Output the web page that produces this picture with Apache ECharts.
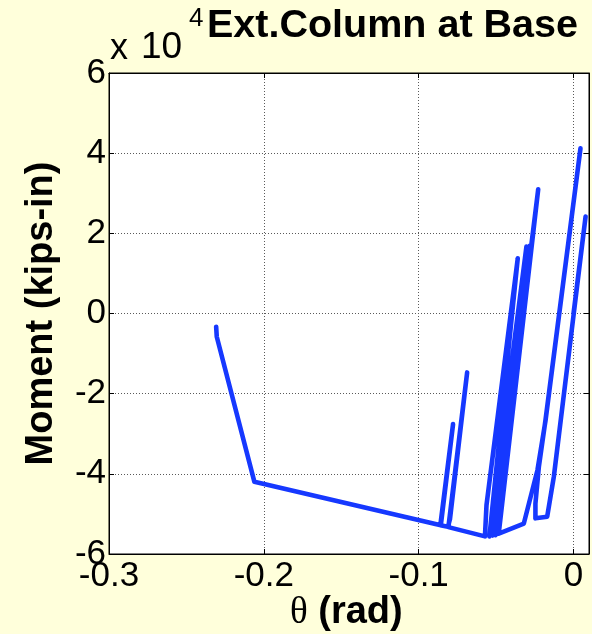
<!DOCTYPE html>
<html>
<head>
<meta charset="utf-8">
<script src="https://cdn.jsdelivr.net/npm/echarts@6/dist/echarts.min.js"></script>
<style>
  html, body { margin: 0; padding: 0; background: #FFFFDB; }
  #chart { width: 592px; height: 634px; }
</style>
</head>
<body>
<div id="chart"></div>
<script>
// Base rotation (rad) and base moment (kips-in) of the exterior column, in path order
const theta = [
  0.0000, 0.0078, -0.0127, -0.0170, -0.0246, -0.0246, -0.0224, -0.0181, 0.0045,
  -0.0181, -0.0233, -0.0321, -0.0483,
  -0.0228, -0.0504, -0.0283, -0.0524, -0.0304, -0.0543, -0.0360, -0.0562, -0.0572,
  -0.0808, -0.0687, -0.0798, -0.0811, -0.0860, -0.0778, -0.0857,
  -0.2061, -0.2304, -0.2308
];
const moment = [
  0, 24200, -40700, -50700, -51100, -47400, -38300, -26600, 41200,
  -26800, -39100, -52400, -54900,
  31000, -55300, 16900, -55400, 16700, -55600, 13800, -47800, -55600,
  -53300, -14700, -51300, -53200, -52800, -27600, -52800,
  -42000, -5800, -3300
];

// Axis ticks
const xTicks = [-0.3, -0.2, -0.1, 0];
const yTicks = [-6, -4, -2, 0, 2, 4, 6];   // ×10^4

const titleText = 'Ext.Column at Base';
const yName = 'Moment (kips-in)';

const points = theta.map((t, i) => [t, moment[i]]);

const chart = echarts.init(document.getElementById('chart'));

const sans = '"Liberation Sans", Arial, sans-serif';
const gridLine = { show: true, lineStyle: { color: '#5a5a5a', type: [1, 2], width: 1 } };
const tickStyle = { show: true, inside: true, length: 5, lineStyle: { color: '#000', width: 1 } };
const boxLine = { show: true, onZero: false, lineStyle: { color: '#000', width: 1 } };
const labelFont = { fontFamily: sans, fontSize: 35, color: '#000' };

chart.setOption({
  animation: false,
  backgroundColor: '#FFFFDB',
  grid: {
    left: 109, right: 3, top: 73, bottom: 80,
    show: true, backgroundColor: '#ffffff', borderColor: '#000', borderWidth: 1
  },
  xAxis: [{
    type: 'value', position: 'bottom',
    min: xTicks[0], max: 0.01, interval: 0.1,
    axisLine: boxLine,
    axisTick: tickStyle,
    splitLine: gridLine,
    axisLabel: Object.assign({
      margin: 5,
      formatter: v => {
        const r = Math.round(v * 10) / 10;
        return xTicks.includes(r) ? (r === 0 ? '0' : r.toFixed(1)) : '';
      }
    }, labelFont)
  }, {
    type: 'value', position: 'top',
    min: xTicks[0], max: 0.01, interval: 0.1,
    axisLine: boxLine,
    axisTick: tickStyle, axisLabel: { show: false }, splitLine: { show: false }
  }],
  yAxis: [{
    type: 'value', position: 'left',
    min: yTicks[0] * 1e4, max: yTicks[yTicks.length - 1] * 1e4, interval: 20000,
    axisLine: boxLine,
    axisTick: tickStyle,
    splitLine: gridLine,
    axisLabel: Object.assign({
      margin: 3,
      formatter: v => String(Math.round(v / 1e4))
    }, labelFont),
    name: yName,
    nameLocation: 'middle',
    nameRotate: 90,
    nameGap: 48,
    nameTextStyle: { fontFamily: sans, fontWeight: 'bold', fontSize: 38, color: '#000' }
  }, {
    type: 'value', position: 'right',
    min: yTicks[0] * 1e4, max: yTicks[yTicks.length - 1] * 1e4, interval: 20000,
    axisLine: boxLine,
    axisTick: tickStyle, axisLabel: { show: false }, splitLine: { show: false }
  }],
  graphic: [{
    type: 'text', x: 207, y: 26.5,
    style: {
      text: titleText,
      font: 'bold 39.5px "Liberation Sans", Arial, sans-serif',
      verticalAlign: 'middle',
      fill: '#000'
    }
  }, {
    // axis multiplier "x 10^4"
    type: 'text', x: 110, y: 49,
    style: {
      text: 'x',
      font: '36px "Liberation Sans", Arial, sans-serif',
      verticalAlign: 'middle',
      fill: '#000'
    }
  }, {
    type: 'text', x: 141, y: 48,
    style: {
      text: '10',
      font: '37px "Liberation Sans", Arial, sans-serif',
      verticalAlign: 'middle',
      fill: '#000'
    }
  }, {
    type: 'text', x: 189, y: 19,
    style: {
      text: '4',
      font: '26px "Liberation Sans", Arial, sans-serif',
      verticalAlign: 'middle',
      fill: '#000'
    }
  }, {
    type: 'text', left: 290, top: 594,
    style: {
      text: '{t|θ}{r| (rad)}',
      rich: {
        t: { fontFamily: '"Liberation Serif", serif', fontSize: 37, fill: '#000' },
        r: { fontFamily: sans, fontWeight: 'bold', fontSize: 38, fill: '#000' }
      }
    }
  }],
  series: [{
    type: 'line',
    xAxisIndex: 0, yAxisIndex: 0,
    data: points,
    showSymbol: false,
    smooth: false,
    clip: true,
    lineStyle: { color: '#1638FF', width: 4.6, join: 'round', cap: 'round' }
  }]
});
</script>
</body>
</html>
